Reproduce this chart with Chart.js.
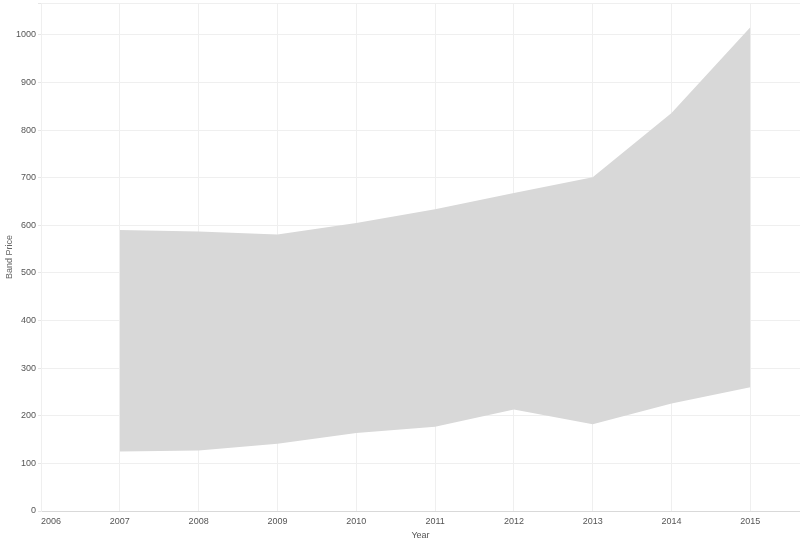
<!DOCTYPE html>
<html>
<head>
<meta charset="utf-8">
<script src="https://cdn.jsdelivr.net/npm/chart.js@4/dist/chart.umd.min.js"></script>
<style>
  html, body { margin: 0; padding: 0; background: #fff; }
  #wrap { width: 800px; height: 541px; }
</style>
</head>
<body>
<div id="wrap"><canvas id="c" width="800" height="541"></canvas></div>
<script>
const years = [2007, 2008, 2009, 2010, 2011, 2012, 2013, 2014, 2015];
const upperPrice = [590, 587, 581, 605, 634, 668, 701, 836, 1016];
const lowerPrice = [125, 127, 141, 164, 177, 213, 182, 226, 260];
const xTicks = [2006, 2007, 2008, 2009, 2010, 2011, 2012, 2013, 2014, 2015];
const yTicks = [0, 100, 200, 300, 400, 500, 600, 700, 800, 900, 1000];
const X_MIN = 2006, X_MAX = 2015.63, Y_MIN = 0, Y_MAX = 1067;

const fontFam = "'Liberation Sans', Arial, sans-serif";
const tickColor = '#555';

new Chart(document.getElementById('c'), {
  type: 'line',
  data: {
    datasets: [
      {
        label: 'Upper',
        data: years.map((y, i) => ({ x: y, y: upperPrice[i] })),
        borderWidth: 0,
        borderColor: 'rgba(0,0,0,0)',
        backgroundColor: '#d8d8d8',
        pointRadius: 0,
        fill: '+1',
        tension: 0
      },
      {
        label: 'Lower',
        data: years.map((y, i) => ({ x: y, y: lowerPrice[i] })),
        borderWidth: 0,
        borderColor: 'rgba(0,0,0,0)',
        backgroundColor: '#d8d8d8',
        pointRadius: 0,
        fill: false,
        tension: 0
      }
    ]
  },
  options: {
    responsive: false,
    animation: false,
    devicePixelRatio: 1,
    layout: { padding: { top: 3, right: 0, left: 0, bottom: 0 } },
    plugins: { legend: { display: false }, tooltip: { enabled: false } },
    scales: {
      x: {
        type: 'linear',
        min: X_MIN,
        max: X_MAX,
        afterBuildTicks: (s) => { s.ticks = xTicks.map(v => ({ value: v })).concat([{ value: X_MAX }]); },
        afterFit: (s) => { s.height = 30; s.paddingLeft = 0; s.paddingRight = 0; },
        grid: {
          color: (ctx) => (ctx.tick && ctx.tick.value === X_MAX) ? 'rgba(0,0,0,0)' : '#efefef',
          lineWidth: 1,
          drawTicks: false
        },
        border: { color: '#d9d9d9', width: 1 },
        ticks: {
          autoSkip: false,
          maxRotation: 0,
          align: 'inner',
          padding: 5,
          color: tickColor,
          font: { family: fontFam, size: 9 },
          callback: (v) => xTicks.includes(v) ? String(v) : ''
        },
        title: {
          display: true,
          text: 'Year',
          color: tickColor,
          font: { family: fontFam, size: 9 },
          padding: { top: 0, bottom: 0 }
        }
      },
      y: {
        type: 'linear',
        min: Y_MIN,
        max: Y_MAX,
        afterBuildTicks: (s) => { s.ticks = yTicks.map(v => ({ value: v })).concat([{ value: Y_MAX }]); },
        afterFit: (s) => { s.width = 41; s.paddingTop = 0; s.paddingBottom = 0; },
        grid: {
          color: '#efefef',
          lineWidth: 1,
          drawTicks: true,
          tickLength: 3,
          tickColor: '#e6e6e6'
        },
        border: { color: '#efefef', width: 1 },
        ticks: {
          autoSkip: false,
          padding: 2,
          color: tickColor,
          font: { family: fontFam, size: 9 },
          callback: (v) => yTicks.includes(v) ? String(v) : ''
        },
        title: {
          display: true,
          text: 'Band Price',
          color: '#666',
          font: { family: fontFam, size: 9 },
          padding: { top: 4, bottom: 0 }
        }
      }
    }
  }
});
</script>
</body>
</html>
